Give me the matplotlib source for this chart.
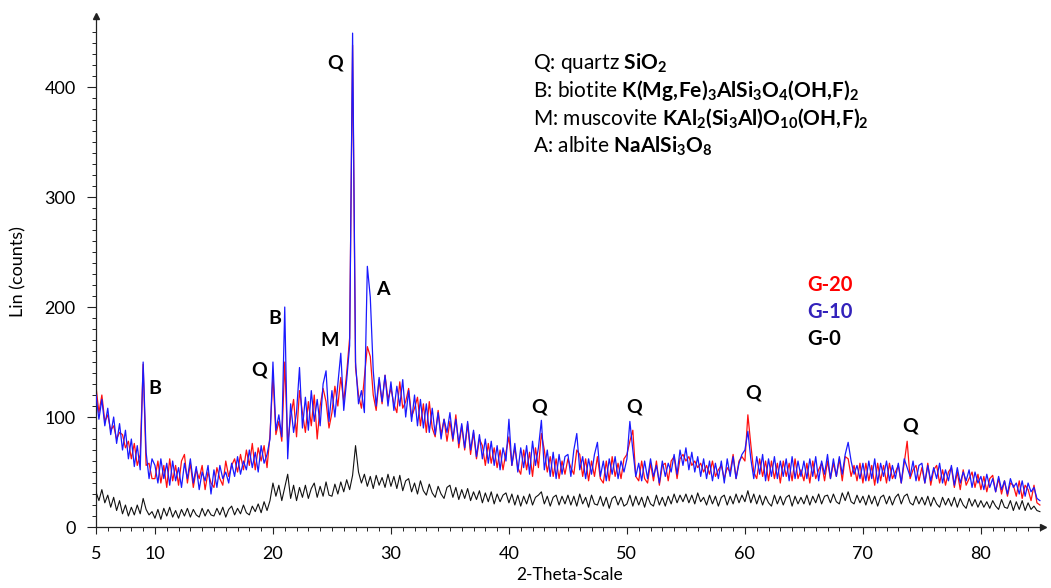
import numpy as np
import matplotlib
matplotlib.use("Agg")
from matplotlib import pyplot as plt

# intensities, 2-theta 5..85 deg every 0.25 deg
g20 = [
    128, 104, 120, 96, 102, 88, 92, 80, 86, 84, 72, 78, 62, 76, 56, 66, 148, 56, 58, 44,
    44, 60, 40, 56, 36, 62, 42, 56, 38, 60, 66, 40, 58, 36, 52, 44, 56, 34, 50, 40,
    36, 54, 44, 38, 60, 46, 56, 62, 50, 66, 52, 70, 56, 76, 52, 72, 60, 74, 54, 84,
    138, 84, 96, 78, 150, 76, 100, 116, 82, 124, 104, 86, 114, 92, 120, 80, 110, 126, 114, 90,
    104, 128, 110, 136, 114, 140, 172, 438, 145, 120, 108, 136, 164, 155, 120, 106, 134, 112, 138, 116,
    126, 112, 104, 132, 108, 114, 126, 100, 108, 118, 92, 112, 86, 114, 90, 82, 106, 84, 98, 78,
    96, 78, 102, 72, 92, 70, 94, 66, 86, 62, 80, 74, 56, 76, 58, 72, 54, 70, 52, 68,
    82, 56, 72, 54, 48, 70, 52, 68, 46, 72, 54, 85, 70, 50, 64, 46, 62, 44, 60, 48,
    62, 54, 48, 70, 66, 46, 62, 42, 60, 46, 64, 44, 40, 60, 42, 64, 46, 58, 44, 62,
    66, 78, 88, 46, 42, 60, 44, 40, 58, 42, 60, 38, 56, 58, 42, 60, 64, 44, 62, 66,
    60, 64, 56, 60, 54, 58, 50, 56, 48, 60, 46, 52, 56, 44, 54, 50, 66, 44, 60, 64,
    60, 102, 75, 50, 44, 62, 46, 60, 42, 60, 44, 58, 40, 60, 46, 58, 42, 62, 44, 52,
    42, 58, 40, 60, 44, 52, 58, 42, 60, 44, 58, 46, 62, 42, 64, 62, 46, 56, 42, 58,
    40, 58, 42, 56, 38, 58, 42, 56, 40, 58, 44, 50, 56, 40, 58, 78, 44, 52, 56, 42,
    54, 40, 58, 38, 52, 56, 40, 52, 38, 50, 54, 36, 50, 34, 52, 38, 44, 50, 36, 48,
    34, 46, 32, 44, 47, 32, 44, 30, 42, 28, 40, 38, 28, 42, 26, 38, 34, 24, 38, 22,
    20,
]
g10 = [
    120, 98, 116, 92, 108, 84, 100, 76, 94, 70, 88, 62, 80, 55, 74, 52, 150, 68, 44, 62,
    56, 40, 62, 44, 58, 38, 60, 42, 54, 36, 58, 44, 62, 40, 55, 34, 50, 42, 56, 30,
    52, 36, 56, 44, 50, 40, 58, 46, 64, 48, 60, 52, 70, 54, 68, 50, 74, 58, 66, 80,
    150, 88, 102, 82, 200, 62, 112, 86, 104, 145, 90, 118, 88, 124, 96, 116, 92, 130, 142, 96,
    124, 100, 130, 158, 106, 134, 165, 449, 150, 112, 124, 104, 237, 209, 142, 110, 136, 114, 138, 110,
    132, 106, 128, 110, 134, 100, 124, 96, 120, 92, 116, 90, 112, 86, 108, 84, 104, 80, 98, 86,
    104, 80, 98, 76, 94, 72, 96, 70, 88, 64, 84, 62, 80, 58, 78, 56, 74, 52, 72, 60,
    98, 56, 76, 50, 72, 54, 74, 48, 78, 56, 72, 97, 52, 70, 46, 68, 44, 66, 48, 64,
    66, 46, 70, 85, 52, 64, 44, 62, 48, 66, 77, 46, 60, 42, 62, 48, 64, 44, 60, 50,
    62, 96, 70, 46, 58, 42, 60, 44, 62, 46, 56, 40, 60, 46, 58, 50, 66, 48, 70, 56,
    72, 52, 68, 50, 64, 46, 62, 44, 60, 42, 58, 44, 60, 40, 62, 46, 64, 44, 58, 66,
    70, 87, 62, 44, 64, 48, 66, 42, 62, 46, 64, 44, 60, 46, 62, 42, 64, 44, 60, 46,
    60, 44, 62, 46, 64, 42, 60, 48, 66, 44, 62, 46, 64, 48, 66, 77, 60, 48, 56, 44,
    58, 42, 60, 44, 62, 40, 58, 46, 60, 42, 56, 44, 58, 40, 62, 54, 46, 60, 42, 56,
    58, 40, 56, 42, 54, 44, 58, 40, 52, 42, 56, 38, 54, 40, 50, 42, 52, 36, 50, 40,
    46, 34, 48, 36, 44, 32, 46, 34, 42, 30, 44, 36, 40, 30, 42, 28, 40, 32, 36, 26,
    24,
]
g0 = [
    32, 24, 34, 22, 29, 18, 27, 15, 24, 12, 20, 10, 18, 11, 20, 12, 26, 16, 11, 14,
    8, 16, 7, 17, 10, 18, 9, 15, 8, 16, 10, 17, 9, 16, 11, 9, 17, 10, 16, 11,
    10, 17, 11, 18, 9, 16, 19, 11, 17, 12, 20, 13, 11, 19, 14, 21, 13, 23, 15, 24,
    40, 28, 38, 24, 36, 48, 26, 38, 24, 36, 27, 38, 26, 35, 40, 27, 37, 28, 41, 29,
    28, 39, 30, 41, 32, 43, 34, 47, 74, 50, 40, 48, 37, 46, 35, 47, 38, 45, 36, 48,
    37, 46, 35, 47, 33, 42, 44, 32, 40, 30, 42, 33, 29, 39, 31, 27, 37, 30, 26, 36,
    38, 27, 36, 25, 34, 26, 35, 24, 32, 25, 33, 22, 31, 23, 32, 21, 30, 23, 29, 31,
    22, 30, 20, 29, 19, 28, 21, 30, 20, 27, 29, 32, 21, 28, 19, 27, 29, 20, 28, 21,
    29, 20, 28, 19, 30, 21, 27, 18, 29, 21, 20, 28, 19, 27, 17, 26, 28, 20, 27, 19,
    21, 29, 19, 28, 20, 27, 18, 28, 21, 19, 29, 20, 27, 19, 28, 21, 30, 22, 29, 23,
    30, 22, 29, 21, 31, 23, 27, 20, 29, 21, 28, 19, 27, 29, 20, 28, 21, 30, 22, 29,
    23, 33, 22, 30, 21, 29, 20, 28, 22, 19, 29, 21, 28, 20, 27, 29, 19, 28, 21, 27,
    21, 29, 20, 28, 22, 30, 21, 28, 29, 22, 30, 23, 21, 31, 24, 32, 23, 21, 29, 22,
    28, 20, 29, 21, 28, 19, 27, 29, 21, 28, 20, 27, 30, 21, 28, 30, 22, 20, 28, 21,
    27, 20, 28, 19, 27, 21, 18, 27, 20, 26, 19, 27, 18, 26, 20, 17, 26, 19, 25, 18,
    24, 18, 23, 17, 24, 19, 16, 25, 18, 17, 24, 15, 23, 16, 24, 15, 22, 16, 19, 15,
    14,
]

series_names = ["G-20", "G-10", "G-0"]
phase_lines = [
    r"Q: quartz $\mathbf{SiO_2}$",
    r"B: biotite $\mathbf{K(Mg,\!Fe)_3AlSi_3O_4(OH,\!F)_2}$",
    r"M: muscovite $\mathbf{KAl_2(Si_3Al)O_{10}(OH,\!F)_2}$",
    r"A: albite $\mathbf{NaAlSi_3O_8}$",
]
peak_letters = ["B", "Q", "B", "M", "Q", "A", "Q", "Q", "Q", "Q"]


def main():
    plt.rcParams["font.family"] = "Lato"
    plt.rcParams["mathtext.fontset"] = "custom"
    plt.rcParams["mathtext.rm"] = "Lato"
    plt.rcParams["mathtext.bf"] = "Lato:bold"
    plt.rcParams["mathtext.it"] = "Lato:italic"

    fig = plt.figure(figsize=(10.51, 5.88), dpi=100)
    ax = fig.add_axes([0.0913, 0.1037, 0.9015, 0.8699])

    theta = np.linspace(5, 85, len(g10))
    ax.plot(theta, g20, color="#ff1010", lw=0.9, zorder=2)
    ax.plot(theta, g10, color="#1a1aff", lw=0.9, zorder=3)
    ax.plot(theta, g0, color="#111111", lw=0.8, zorder=4)

    ax.set_xlim(5, 85.3)
    ax.set_ylim(0, 465)

    for side in ["top", "right"]:
        ax.spines[side].set_visible(False)
    for side in ["left", "bottom"]:
        ax.spines[side].set_color("#222222")
        ax.spines[side].set_linewidth(0.9)
    ax.plot(1, 0, ">", color="#222222", ms=4, transform=ax.transAxes, clip_on=False)
    ax.plot(0, 1, "^", color="#222222", ms=4, transform=ax.transAxes, clip_on=False)

    ax.set_xticks([5, 10, 20, 30, 40, 50, 60, 70, 80])
    ax.set_xticks(np.arange(5, 86, 1), minor=True)
    ax.set_yticks([0, 100, 200, 300, 400])
    ax.set_yticks(np.arange(0, 460, 10), minor=True)
    ax.tick_params(axis="x", which="major", length=5, width=0.8, pad=9, labelsize=13, color="#222222")
    ax.tick_params(axis="x", which="minor", length=3, width=0.7, color="#222222")
    ax.tick_params(axis="y", which="major", length=6.5, width=0.8, pad=8, labelsize=13, color="#222222")
    ax.tick_params(axis="y", which="minor", length=3, width=0.7, color="#222222")

    ax.set_xlabel("2-Theta-Scale", fontsize=12.5, labelpad=3)
    ax.set_ylabel("Lin (counts)", fontsize=13, labelpad=13)

    # peak letters
    spots = [(10.0, 126), (18.8, 143), (20.2, 190), (24.8, 170), (25.25, 422),
             (29.3, 216), (42.6, 109), (50.6, 109), (60.7, 122), (74.0, 92)]
    for letter, (px, py) in zip(peak_letters, spots):
        ax.text(px, py, letter, fontsize=14, fontweight="bold", ha="center", va="center")

    # phase list
    for i, line in enumerate(phase_lines):
        ax.text(42.0, 416 - i * 25.3, line, fontsize=15, va="baseline", ha="left")

    colors = ["#ff0000", "#3322bb", "#000000"]
    for i, name in enumerate(series_names):
        ax.text(65.25, 220 - i * 24.5, name, color=colors[i], fontsize=14.5,
                fontweight="bold", va="center", ha="left")

    plt.savefig("out.png", dpi=100)


if __name__ == "__main__":
    main()
